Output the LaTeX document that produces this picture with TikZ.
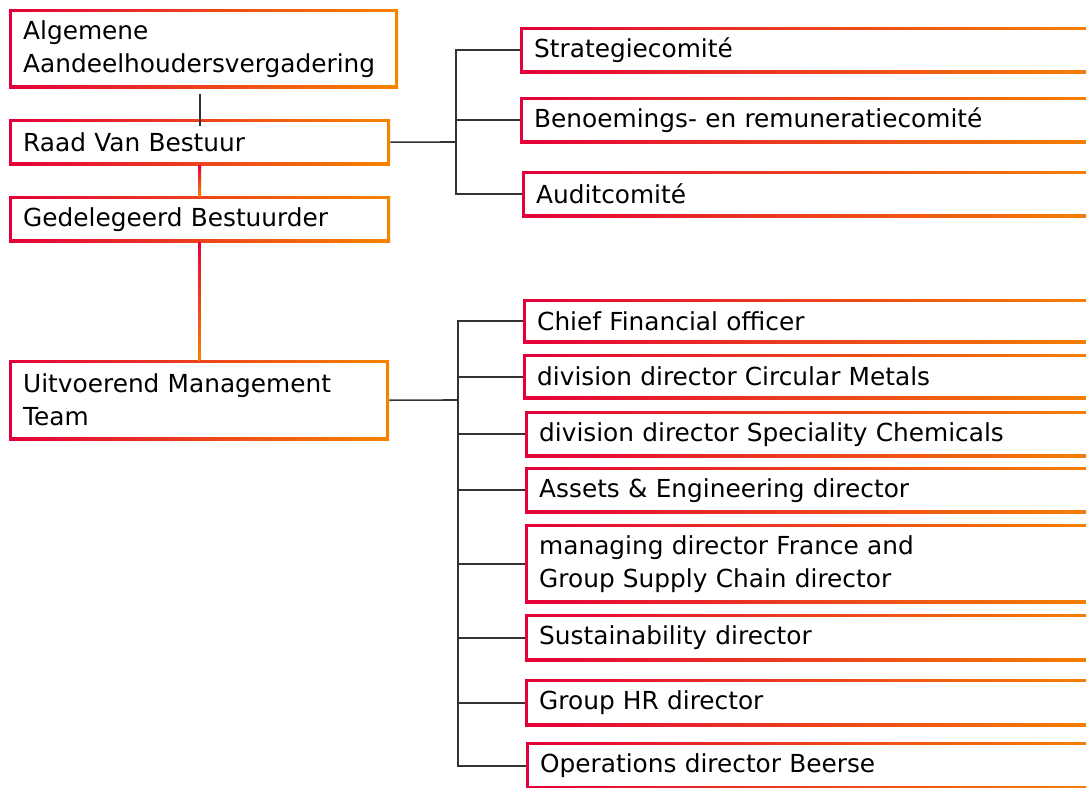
\documentclass[tikz,border=0pt]{standalone}
\usepackage{fontspec}
\setmainfont{DejaVu Sans}
\definecolor{umred}{HTML}{E4003A}
\definecolor{umorange}{HTML}{F58400}
\definecolor{linegray}{HTML}{333333}

\begin{document}
\begin{tikzpicture}[x=1pt, y=-1pt,
  box/.style={anchor=north west, text width=#1, inner xsep=14pt, inner ysep=0pt, align=left,
    font=\fontsize{24.8}{33}\selectfont,
    path picture={
      \shade[left color=umred, right color=umorange] (path picture bounding box.south west) rectangle (path picture bounding box.north east);
      \fill[white] ([shift={(3pt,3pt)}]path picture bounding box.south west) rectangle ([shift={(-3pt,-3pt)}]path picture bounding box.north east);
    }},
  conn/.style={linegray, line width=1.6pt}]

\useasboundingbox (0,0) rectangle (1086,787);
\clip (0,0) rectangle (1086,787);

% left column
\node[box=361pt, minimum height=79pt] (aav) at (9,9) {Algemene\\Aandeelhoudersvergadering};
\node[box=353pt, minimum height=46pt] (rvb) at (9,119) {Raad Van Bestuur};
\node[box=353pt, minimum height=46pt] (gb) at (9,196) {Gedelegeerd Bestuurder};
\node[box=352pt, minimum height=80pt] (umt) at (9,360) {Uitvoerend Management\\Team};

% committees
\node[box=560pt, minimum height=46pt] (strat) at (520,27) {Strategiecomité};
\node[box=560pt, minimum height=46pt] (benoem) at (520,97) {Benoemings- en remuneratiecomité};
\node[box=558pt, minimum height=46pt] (audit) at (522,171) {Auditcomité};

% management team
\node[box=557pt, minimum height=44pt] (cfo) at (523,299) {Chief Financial officer};
\node[box=557pt, minimum height=45pt] (dcm) at (523,354) {division director Circular Metals};
\node[box=555pt, minimum height=46pt] (dsc) at (525,411) {division director Speciality Chemicals};
\node[box=555pt, minimum height=46pt] (assets) at (525,467) {Assets \& Engineering director};
\node[box=555pt, minimum height=79pt] (mgd) at (525,524) {managing director France and\\Group Supply Chain director};
\node[box=555pt, minimum height=47pt] (sus) at (525,614) {Sustainability director};
\node[box=555pt, minimum height=47pt] (hr) at (525,679) {Group HR director};
\node[box=554pt, minimum height=47pt] (ops) at (526,742) {Operations director Beerse};

% vertical links
\draw[conn] ([yshift=-6pt]aav.south -| rvb.north) -- ([yshift=-7pt]rvb.north);
\shade[top color=umred, bottom color=umorange] ([xshift=-1.5pt]rvb.south) rectangle ([xshift=1.5pt]gb.north);
\shade[top color=umred, bottom color=umorange] ([xshift=-1.5pt]gb.south) rectangle ([xshift=1.5pt]umt.north);

% brackets
\coordinate (cj) at (456,142);
\draw[conn] (rvb.east) -- (cj);
\draw[conn] (strat.west) -| (cj) |- (audit.west);
\draw[conn] (benoem.west) -- (benoem.west -| cj);

\coordinate (mj) at (458,400);
\draw[conn] (umt.east) -- (mj);
\draw[conn] (cfo.west) -| (mj) |- (ops.west);
\foreach \n in {dcm,dsc,assets,mgd,sus,hr}
  \draw[conn] (\n.west) -- (\n.west -| mj);

\end{tikzpicture}
\end{document}
